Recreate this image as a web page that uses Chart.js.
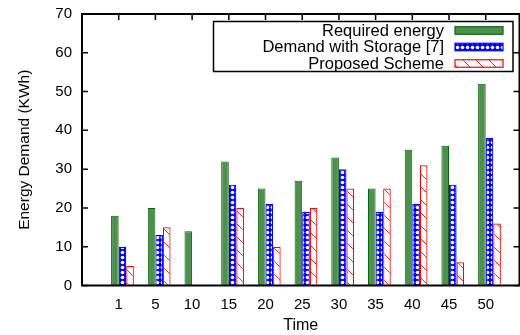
<!DOCTYPE html>
<html>
<head>
<meta charset="utf-8">
<script src="https://cdn.jsdelivr.net/npm/chart.js@4.4.1/dist/chart.umd.min.js"></script>
<style>
html,body{margin:0;padding:0;background:#fff;overflow:hidden;}
#wrap{width:520px;height:335px;position:relative;}
</style>
</head>
<body>
<div id="wrap"><canvas id="c" width="520" height="335"></canvas></div>
<script>
const timeLabels = ['1','5','10','15','20','25','30','35','40','45','50'];
const requiredEnergy = [18,20,14,32,25,27,33,25,35,36,52];
const demandStorage = [10,13,0,26,21,19,30,19,21,26,38];
const proposedScheme = [5,15,0,20,10,20,25,25,31,6,16];
const yTicks = [0,10,20,30,40,50,60,70];
const seriesNames = ['Required energy','Demand with Storage [7]','Proposed Scheme'];

const FONT = 'Liberation Sans, Arial, Helvetica, sans-serif';
const SHIFT = 0.1025;

function bluePattern(){
  const c=document.createElement('canvas'); c.width=5; c.height=5;
  const g=c.getContext('2d');
  g.fillStyle='#0000ff'; g.fillRect(0,0,5,5);
  g.fillStyle='#ffffff';
  g.beginPath(); g.arc(2.5,2.5,1.8,0,Math.PI*2); g.fill();
  return g.createPattern(c,'repeat');
}
function redPattern(){
  const s=13;
  const c=document.createElement('canvas'); c.width=s; c.height=s;
  const g=c.getContext('2d');
  g.fillStyle='#ffffff'; g.fillRect(0,0,s,s);
  g.strokeStyle='#ff2020'; g.lineWidth=1;
  g.beginPath();
  g.moveTo(-1,-1); g.lineTo(s+1,s+1);
  g.moveTo(-1,s-1); g.lineTo(1,s+1);
  g.moveTo(s-1,-1); g.lineTo(s+1,1);
  g.stroke();
  return g.createPattern(c,'repeat');
}
const pBlue = bluePattern();
const pRed = redPattern();

function toXY(arr){ return arr.map((v,i)=>({x:i+1+SHIFT,y:v})); }

const styles = [
  {bg:'rgb(78,145,78)', border:'rgb(10,100,10)'},
  {bg:pBlue, border:'#0000ff'},
  {bg:pRed, border:'#ff0000'}
];

const framePlugin = {
  id:'frame',
  afterDatasetsDraw(chart){
    const {ctx, chartArea:a, scales} = chart;
    ctx.save();
    ctx.strokeStyle='#000'; ctx.lineWidth=1.5;
    ctx.beginPath();
    yTicks.forEach(v=>{
      const y=scales.y.getPixelForValue(v);
      ctx.moveTo(a.left,y); ctx.lineTo(a.left+6,y);
      ctx.moveTo(a.right,y); ctx.lineTo(a.right-6,y);
    });
    timeLabels.forEach((t,i)=>{
      const x=scales.x.getPixelForValue(i+1);
      ctx.moveTo(x,a.top); ctx.lineTo(x,a.top+6);
    });
    ctx.stroke();
    ctx.lineWidth=2;
    ctx.strokeRect(a.left,a.top,a.right-a.left,a.bottom-a.top);
    const lx=213.5, ly=21.5, lw=299.5, lh=50;
    ctx.fillStyle='#fff'; ctx.fillRect(lx,ly,lw,lh);
    ctx.lineWidth=1.5; ctx.strokeStyle='#000'; ctx.strokeRect(lx,ly,lw,lh);
    ctx.font='16.5px '+FONT; ctx.textAlign='right'; ctx.textBaseline='middle';
    const rows=[30.5,47,63.5];
    chart.data.datasets.forEach((ds,i)=>{
      ctx.fillStyle='#000';
      ctx.fillText(ds.label, 444, rows[i]+0.5);
      ctx.fillStyle=ds.backgroundColor;
      ctx.fillRect(455,rows[i]-3.75,48,7.5);
      ctx.strokeStyle=ds.borderColor; ctx.lineWidth=1.2;
      ctx.strokeRect(455,rows[i]-3.75,48,7.5);
    });
    ctx.restore();
  }
};

const common = {categoryPercentage:0.62, barPercentage:1, borderSkipped:'start', grouped:true};

new Chart(document.getElementById('c'),{
  type:'bar',
  data:{
    datasets:[
      Object.assign({label:seriesNames[0], data:toXY(requiredEnergy), backgroundColor:styles[0].bg, borderColor:styles[0].border, borderWidth:1}, common),
      Object.assign({label:seriesNames[1], data:toXY(demandStorage), backgroundColor:styles[1].bg, borderColor:styles[1].border, borderWidth:1.2}, common),
      Object.assign({label:seriesNames[2], data:toXY(proposedScheme), backgroundColor:styles[2].bg, borderColor:styles[2].border, borderWidth:1.2}, common)
    ]
  },
  options:{
    responsive:false, animation:false,
    devicePixelRatio:1,
    layout:{padding:{top:14,right:0.5,left:0,bottom:0}},
    plugins:{legend:{display:false}, tooltip:{enabled:false}},
    scales:{
      x:{
        type:'linear', min:0, max:11.92, offset:false,
        afterBuildTicks(s){ s.ticks = timeLabels.map((t,i)=>({value:i+1})); },
        afterFit(s){ s.height=49.5; s.paddingLeft=0; s.paddingRight=0; },
        grid:{display:false, drawTicks:false},
        border:{display:false},
        ticks:{autoSkip:false, maxRotation:0, padding:10, color:'#000', font:{family:FONT,size:15},
          callback:(v)=>timeLabels[Math.round(v)-1] ?? ''},
        title:{display:true, text:'Time', color:'#000', font:{family:FONT,size:16}, padding:{top:0,bottom:0}}
      },
      y:{
        min:0, max:70,
        afterBuildTicks(s){ s.ticks = yTicks.map(v=>({value:v})); },
        afterFit(s){ s.width=82; s.paddingTop=0; s.paddingBottom=0; },
        grid:{display:false, drawTicks:false},
        border:{display:false},
        ticks:{padding:10, color:'#000', font:{family:FONT,size:15}},
        title:{display:true, text:'Energy Demand (KWh)', color:'#000', font:{family:FONT,size:15.5}, padding:{top:15.5,bottom:0}}
      }
    }
  },
  plugins:[framePlugin]
});
</script>
</body>
</html>
